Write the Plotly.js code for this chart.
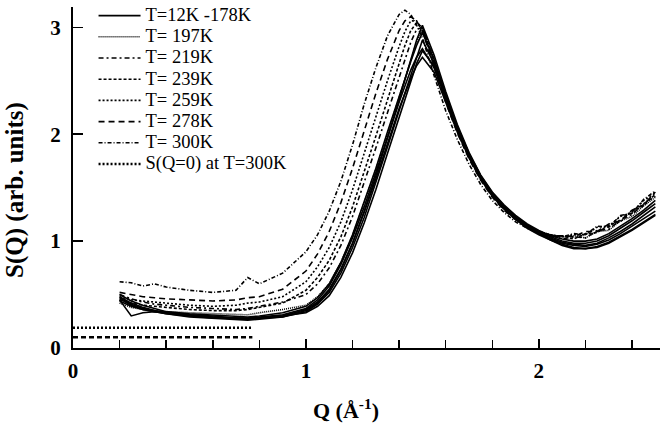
<!DOCTYPE html>
<html>
<head>
<meta charset="utf-8">
<script src="https://cdn.plot.ly/plotly-3.0.1.min.js"></script>
<style>
  html, body { margin: 0; padding: 0; background: #fff; }
  #chart { width: 660px; height: 428px; }
</style>
</head>
<body>
<div id="chart"></div>
<script>
// Momentum transfer grid (1/Å)
const Q = [0.2, 0.25, 0.3, 0.35, 0.4, 0.5, 0.6, 0.7, 0.75, 0.8, 0.9,
  1.0, 1.05, 1.1, 1.15, 1.2, 1.25, 1.3, 1.35, 1.4, 1.425, 1.45, 1.475, 1.5,
  1.55, 1.6, 1.65, 1.7, 1.75, 1.8, 1.85, 1.9, 1.95, 2.0,
  2.05, 2.1, 2.15, 2.2, 2.25, 2.3, 2.35, 2.4, 2.45, 2.5];

// Low-temperature structure factors, 12 K – 178 K
const sLowA = [0.46, 0.40, 0.36, 0.34, 0.32, 0.30, 0.29, 0.27, 0.27, 0.28, 0.30,
  0.36, 0.43, 0.55, 0.74, 0.98, 1.27, 1.58, 1.92, 2.24, 2.38, 2.52, 2.64, 2.72,
  2.58, 2.30, 2.02, 1.78, 1.58, 1.42, 1.30, 1.20, 1.12, 1.06,
  1.01, 0.97, 0.94, 0.93, 0.94, 0.98, 1.04, 1.10, 1.17, 1.24];
const sLowB = [0.48, 0.42, 0.38, 0.35, 0.33, 0.31, 0.30, 0.28, 0.28, 0.29, 0.31,
  0.37, 0.45, 0.58, 0.78, 1.03, 1.32, 1.64, 1.98, 2.30, 2.45, 2.60, 2.72, 2.80,
  2.62, 2.32, 2.04, 1.79, 1.59, 1.43, 1.31, 1.21, 1.13, 1.07,
  1.02, 0.98, 0.96, 0.95, 0.97, 1.01, 1.07, 1.14, 1.21, 1.28];
const sLowC = [0.45, 0.30, 0.33, 0.34, 0.33, 0.30, 0.28, 0.28, 0.27, 0.28, 0.29,
  0.34, 0.41, 0.52, 0.70, 0.94, 1.22, 1.54, 1.88, 2.22, 2.39, 2.55, 2.72, 2.88,
  2.66, 2.34, 2.05, 1.80, 1.60, 1.44, 1.31, 1.21, 1.13, 1.08,
  1.03, 0.99, 0.97, 0.96, 0.98, 1.03, 1.09, 1.16, 1.24, 1.32];
const sLowD = [0.50, 0.44, 0.40, 0.37, 0.34, 0.32, 0.31, 0.30, 0.29, 0.30, 0.33,
  0.39, 0.47, 0.60, 0.80, 1.06, 1.36, 1.68, 2.02, 2.36, 2.52, 2.68, 2.83, 2.95,
  2.70, 2.37, 2.07, 1.82, 1.61, 1.45, 1.33, 1.23, 1.15, 1.09,
  1.04, 1.00, 0.98, 0.98, 1.00, 1.05, 1.12, 1.19, 1.27, 1.35];
const sLowE = [0.44, 0.39, 0.36, 0.34, 0.32, 0.29, 0.28, 0.27, 0.26, 0.27, 0.29,
  0.35, 0.42, 0.54, 0.73, 0.98, 1.28, 1.61, 1.96, 2.32, 2.51, 2.70, 2.88, 3.02,
  2.74, 2.40, 2.09, 1.83, 1.62, 1.46, 1.34, 1.24, 1.16, 1.10,
  1.05, 1.02, 1.00, 1.00, 1.02, 1.07, 1.14, 1.21, 1.29, 1.38];
const sLowF = [0.47, 0.41, 0.37, 0.35, 0.33, 0.31, 0.29, 0.28, 0.28, 0.28, 0.30,
  0.33, 0.39, 0.49, 0.66, 0.89, 1.17, 1.48, 1.82, 2.16, 2.33, 2.50, 2.66, 2.78,
  2.64, 2.35, 2.06, 1.81, 1.60, 1.44, 1.32, 1.22, 1.14, 1.07,
  1.01, 0.96, 0.93, 0.93, 0.95, 0.99, 1.05, 1.11, 1.18, 1.25];

// Higher temperatures
const s197 = [0.42, 0.38, 0.36, 0.35, 0.34, 0.33, 0.32, 0.31, 0.31, 0.33, 0.36,
  0.40, 0.48, 0.60, 0.80, 1.05, 1.35, 1.67, 2.00, 2.34, 2.52, 2.70, 2.86, 2.98,
  2.72, 2.38, 2.07, 1.82, 1.61, 1.45, 1.33, 1.23, 1.15, 1.09,
  1.06, 1.04, 1.05, 1.03, 1.09, 1.10, 1.19, 1.23, 1.33, 1.41];
const s219 = [0.50, 0.46, 0.43, 0.41, 0.40, 0.38, 0.37, 0.36, 0.37, 0.39, 0.43,
  0.50, 0.60, 0.75, 0.96, 1.23, 1.54, 1.87, 2.20, 2.52, 2.70, 2.86, 2.98, 3.00,
  2.68, 2.35, 2.05, 1.80, 1.60, 1.44, 1.32, 1.22, 1.14, 1.08,
  1.06, 1.02, 1.04, 1.03, 1.10, 1.11, 1.20, 1.25, 1.35, 1.42];
const s239 = [0.45, 0.42, 0.40, 0.39, 0.38, 0.36, 0.35, 0.35, 0.36, 0.38, 0.42,
  0.54, 0.66, 0.82, 1.04, 1.32, 1.64, 1.98, 2.32, 2.66, 2.83, 2.97, 3.04, 3.00,
  2.68, 2.34, 2.04, 1.79, 1.59, 1.43, 1.31, 1.21, 1.14, 1.08,
  1.04, 1.05, 1.02, 1.07, 1.08, 1.15, 1.18, 1.28, 1.33, 1.44];
const s259 = [0.48, 0.45, 0.44, 0.43, 0.42, 0.40, 0.39, 0.40, 0.42, 0.43, 0.48,
  0.62, 0.76, 0.94, 1.18, 1.48, 1.82, 2.17, 2.50, 2.82, 2.96, 3.06, 3.06, 2.98,
  2.66, 2.32, 2.02, 1.78, 1.58, 1.42, 1.30, 1.21, 1.14, 1.08,
  1.06, 1.04, 1.06, 1.06, 1.13, 1.14, 1.23, 1.27, 1.38, 1.45];
const s278 = [0.52, 0.50, 0.48, 0.47, 0.46, 0.45, 0.44, 0.45, 0.47, 0.48, 0.55,
  0.72, 0.88, 1.09, 1.36, 1.68, 2.03, 2.38, 2.70, 2.97, 3.06, 3.10, 3.06, 2.96,
  2.64, 2.30, 2.01, 1.77, 1.57, 1.41, 1.29, 1.20, 1.13, 1.08,
  1.05, 1.05, 1.04, 1.09, 1.09, 1.16, 1.19, 1.29, 1.34, 1.46];
const s300 = [0.62, 0.61, 0.58, 0.60, 0.57, 0.54, 0.52, 0.54, 0.66, 0.60, 0.70,
  0.90, 1.06, 1.28, 1.56, 1.90, 2.28, 2.62, 2.92, 3.12, 3.16, 3.12, 3.02, 2.90,
  2.55, 2.22, 1.95, 1.72, 1.53, 1.38, 1.27, 1.18, 1.12, 1.07,
  1.06, 1.04, 1.07, 1.06, 1.14, 1.13, 1.24, 1.26, 1.39, 1.47];

// Extrapolated S(Q=0) levels
const qZero = [0, 0.77];
const sZero300 = [0.19, 0.19];
const sZeroLow = [0.10, 0.10];

const legendNames = ['T=12K -178K', 'T= 197K', 'T= 219K', 'T= 239K',
  'T= 259K', 'T= 278K', 'T= 300K', 'S(Q=0) at T=300K'];

const ink = '#000';
const serif = 'Liberation Serif, Times New Roman, serif';

// Legend entries use a larger type than the row pitch the legend font sets
function label(t) {
  return '<span style="font-size:18.5px">' + t + '</span>';
}

function curve(y, name, dash, show, width) {
  return {
    x: Q, y: y, type: 'scatter', mode: 'lines', name: label(name),
    showlegend: show, legendgroup: name,
    line: { color: ink, width: width || 1.6, dash: dash }
  };
}

const traces = [
  curve(sLowA, legendNames[0], 'solid', true),
  curve(sLowB, legendNames[0], 'solid', false),
  curve(sLowC, legendNames[0], 'solid', false),
  curve(sLowD, legendNames[0], 'solid', false),
  curve(sLowE, legendNames[0], 'solid', false),
  curve(sLowF, legendNames[0], 'solid', false),
  curve(s197, legendNames[1], '1px,1px', true, 1.6),
  curve(s219, legendNames[2], '5px,3px,2px,3px', true, 1.6),
  curve(s239, legendNames[3], '3px,2px', true, 1.6),
  curve(s259, legendNames[4], '2px,2px', true, 1.6),
  curve(s278, legendNames[5], '6px,4px', true, 1.6),
  curve(s300, legendNames[6], '4px,2px,1px,2px', true, 1.6),
  { x: qZero, y: sZero300, type: 'scatter', mode: 'lines', name: label(legendNames[7]),
    legendgroup: 'zero300',
    line: { color: ink, width: 2.5, dash: '2px,2px' } },
  { x: qZero, y: sZeroLow, type: 'scatter', mode: 'lines', name: 'S(Q=0) low T',
    showlegend: false, line: { color: ink, width: 2.5, dash: '5px,3px' } }
];

const layout = {
  width: 660, height: 428,
  margin: { l: 73, r: 0, t: 7, b: 80 },
  paper_bgcolor: '#fff', plot_bgcolor: '#fff',
  showlegend: true,
  legend: {
    x: 0.035, y: 1.022, xanchor: 'left', yanchor: 'top',
    bgcolor: 'rgba(0,0,0,0)', borderwidth: 0,
    font: { family: serif, size: 14, color: ink },
    tracegroupgap: 0, itemwidth: 42
  },
  xaxis: {
    range: [0, 2.52], showgrid: false, zeroline: false,
    showline: true, linecolor: ink, linewidth: 2,
    ticks: 'inside', ticklen: 9, tickwidth: 1.5, tickcolor: ink,
    tickmode: 'linear', tick0: 0, dtick: 1,
    minor: { dtick: 0.2, ticks: 'inside', ticklen: 8, tickwidth: 1.5, tickcolor: ink, showgrid: false },
    tickfont: { family: serif, size: 21, color: ink, weight: 'bold' },
    ticklabelstandoff: 3
  },
  yaxis: {
    range: [0, 3.19], showgrid: false, zeroline: false,
    showline: true, linecolor: ink, linewidth: 2,
    ticks: 'inside', ticklen: 10, tickwidth: 1.5, tickcolor: ink,
    tickmode: 'linear', tick0: 0, dtick: 1,
    tickfont: { family: serif, size: 21, color: ink, weight: 'bold' },
    ticklabelstandoff: 6
  },
  annotations: [
    { text: 'S(Q) (arb. units)', xref: 'paper', yref: 'paper',
      x: -0.098, y: 0.465, xanchor: 'center', yanchor: 'middle', textangle: -90,
      showarrow: false, font: { family: serif, size: 25, color: ink, weight: 'bold' } },
    { text: 'Q (Å<sup>-1</sup>)', xref: 'paper', yref: 'paper',
      x: 0.465, y: -0.18, xanchor: 'center', yanchor: 'middle',
      showarrow: false, font: { family: serif, size: 22, color: ink, weight: 'bold' } }
  ]
};

Plotly.newPlot('chart', traces, layout, { displayModeBar: false, staticPlot: true });
</script>
</body>
</html>
